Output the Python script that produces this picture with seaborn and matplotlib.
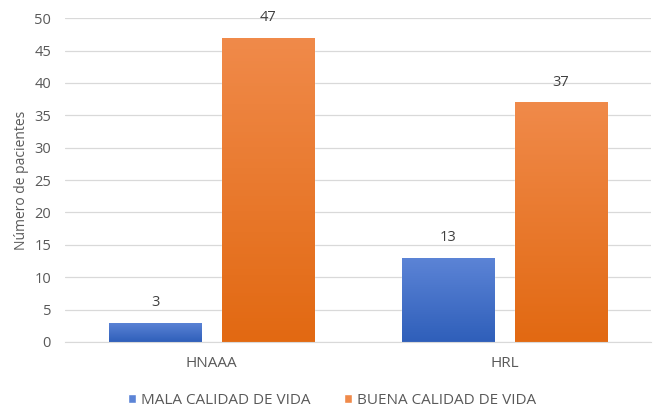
import matplotlib
matplotlib.use("Agg")
import matplotlib.pyplot as plt
import matplotlib.colors as mcolors
import numpy as np
import seaborn as sns
import pandas as pd

hospitales = ["HNAAA", "HRL"]
series = ["MALA CALIDAD DE VIDA", "BUENA CALIDAD DE VIDA"]
mala = [3, 13]
buena = [47, 37]

df = pd.DataFrame({
    "Hospital": hospitales * 2,
    "Grupo": [series[0]] * 2 + [series[1]] * 2,
    "Pacientes": mala + buena,
})

sns.set_style("white")
plt.rcParams["font.family"] = ["Open Sans", "DejaVu Sans"]

# gradient colours (top, bottom) per series
grad = {
    series[0]: ("#5c84d6", "#2f5fba"),
    series[1]: ("#f08a4a", "#e26912"),
}

fig = plt.figure(figsize=(6.53, 4.12), dpi=100)
ax = fig.add_axes([0.0995, 0.170, 0.8975, 0.786])

sns.barplot(data=df, x="Hospital", y="Pacientes", hue="Grupo", hue_order=series,
            palette=[grad[s][1] for s in series], width=0.768, gap=0.18,
            ax=ax, legend=True)

ax.set_ylim(0, 50)
ax.set_yticks(range(0, 51, 5))
ax.grid(axis="y", color="#d9d9d9", linewidth=0.9)
ax.set_axisbelow(True)
for s in ["top", "right", "left"]:
    ax.spines[s].set_visible(False)
ax.spines["bottom"].set_color("#d9d9d9")
ax.tick_params(axis="both", length=0, colors="#595959", labelsize=10.5)
ax.tick_params(axis="x", pad=10, labelsize=11)
ax.tick_params(axis="y", pad=10)
# small separator ticks between the categories
ax.set_xticks([-0.5, 0.5, 1.5], minor=True)
ax.tick_params(axis="x", which="minor", length=4, color="#d9d9d9", width=0.9)
ax.set_xlabel("")
ax.set_ylabel("Número de pacientes", color="#595959", fontsize=10, labelpad=4)

# paint each bar with a vertical gradient clipped to the bar
for container, name in zip(ax.containers, series):
    cmap = mcolors.LinearSegmentedColormap.from_list(name, [grad[name][1], grad[name][0]])
    for patch in container:
        x0, y0 = patch.get_x(), patch.get_y()
        w, h = patch.get_width(), patch.get_height()
        img = ax.imshow(np.linspace(0, 1, 100).reshape(-1, 1), cmap=cmap, aspect="auto",
                        origin="lower", extent=[x0, x0 + w, y0, y0 + h], zorder=2)
        img.set_clip_path(patch)
        patch.set_facecolor("none")
    ax.bar_label(container, padding=9, color="#404040", fontsize=10.5)

ax.set_xlim(-0.5, 1.5)
ax.set_ylim(0, 50)

handles, labels = ax.get_legend_handles_labels()
ax.legend_.remove()
for hnd, name in zip(handles, series):
    hnd.set_facecolor(grad[name][0])
fig.legend(handles, labels, loc="center", bbox_to_anchor=(0.508, 0.028), ncol=2,
           frameon=False, fontsize=11, handlelength=0.55, handleheight=0.55,
           columnspacing=2.2, handletextpad=0.3, labelcolor="#595959")

fig.savefig("out.png", dpi=100)
